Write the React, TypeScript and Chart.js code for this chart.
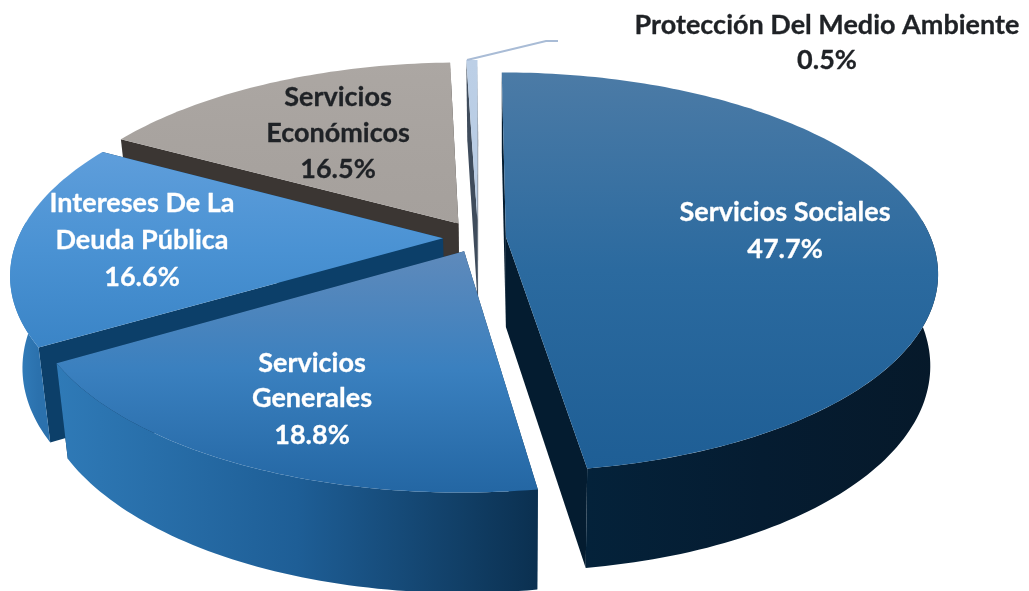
import React, { useEffect, useRef } from "react";
import { Chart, registerables } from "chart.js";

Chart.register(...registerables);

const categories = [
  "Servicios Sociales",
  "Servicios Generales",
  "Intereses De La Deuda Pública",
  "Servicios Económicos",
  "Protección Del Medio Ambiente",
];
const shares = [47.7, 18.8, 16.6, 16.5, 0.5];
const explode = [28, 32, 35, 38, 40];

const topStops = [
  ["#4c7ba6", "#2b6a9f", "#1e5e95"],
  ["#5f8abb", "#3a80bf", "#2467a4"],
  ["#5f9edb", "#4a92d3", "#3a84c6"],
  ["#aca7a3", "#a8a39f", "#a5a09c"],
  ["#bccfe6", "#b8cce4", "#b8cce4"],
];
const topRanges = [[70, 470], [250, 490], [150, 350], [60, 225], [60, 300]];
const wallLeft = ["#04223a", "#2f7ab7", "#3a86c4", "#3b3633", "#3a4a5c"];
const wallMid = ["#051c31", "#1e5e96", "#3079b6", "#3b3633", "#3a4a5c"];
const wallRight = ["#06192a", "#0b3050", "#2b71ad", "#3b3633", "#3a4a5c"];
const cutFaces = ["#041c30", "#0a3355", "#0c3f69", "#3b3633", "#3f4c5c"];
const drawOrder = [3, 4, 2, 1, 0];

const labelBlocks = [
  { lines: ["Protección Del Medio Ambiente", "0.5%"], x: 827, y: [25, 60], color: "#1f2226" },
  { lines: ["Servicios Sociales", "47.7%"], x: 785, y: [212, 249], color: "#ffffff" },
  { lines: ["Servicios", "Generales", "18.8%"], x: 312, y: [363, 398, 435], color: "#ffffff" },
  { lines: ["Intereses De La", "Deuda Pública", "16.6%"], x: 142, y: [203, 240, 277], color: "#ffffff" },
  { lines: ["Servicios", "Económicos", "16.5%"], x: 338, y: [97, 133, 169], color: "#1f2226" },
];

const SQUASH = 0.456;
const PERSP = 0.175;
const VANISH_X = 505;
const SHRINK_LEFT = 0.025;
const SHRINK_RIGHT = 0.018;

type Pt = { x: number; y: number; w: number };

const pie3d = {
  id: "pie3d",
  beforeDatasetDraw(chart: any) {
    const ctx: CanvasRenderingContext2D = chart.ctx;
    const arcs = chart.getDatasetMeta(0).data;
    for (const i of drawOrder) {
      const el = arcs[i];
      const { x, y, startAngle, endAngle, outerRadius: R } = el.getProps(
        ["x", "y", "startAngle", "endAngle", "outerRadius"],
        true
      );
      const off = el.options.offset;
      const mid = (startAngle + endAngle) / 2;
      const ou = off * Math.cos(mid);
      const ov = off * Math.sin(mid);
      const project = (u: number, v: number): Pt => {
        const w = 1 - (PERSP * v) / R;
        return { x: x + u / w, y: y + (SQUASH * v) / w, w };
      };
      const rim = (a: number) => project(ou + R * Math.cos(a), ov + R * Math.sin(a));
      const lower = (p: Pt): Pt => ({
        x: VANISH_X + (p.x - VANISH_X) * (1 - (p.x < VANISH_X ? SHRINK_LEFT : SHRINK_RIGHT)),
        y: p.y + 90 + 55 * (1 - p.w),
        w: p.w,
      });
      const apex = project(ou, ov);
      const poly = (pts: Pt[], fill: any) => {
        ctx.beginPath();
        pts.forEach((p, k) => (k ? ctx.lineTo(p.x, p.y) : ctx.moveTo(p.x, p.y)));
        ctx.closePath();
        ctx.fillStyle = fill;
        ctx.fill();
      };
      const sample = (a0: number, a1: number) => {
        const n = Math.max(2, Math.ceil(Math.abs(a1 - a0) / 0.02));
        const out: Pt[] = [];
        for (let k = 0; k <= n; k++) out.push(rim(a0 + ((a1 - a0) * k) / n));
        return out;
      };

      // cut faces
      const sP = rim(startAngle);
      const eP = rim(endAngle);
      poly([apex, eP, lower(eP), lower(apex)], cutFaces[i]);
      poly([apex, sP, lower(sP), lower(apex)], cutFaces[i]);

      // outer wall: only the part turned to the viewer (angles measured from +x, down is +)
      const lo = Math.max(startAngle, (-5 * Math.PI) / 180);
      const hi = Math.min(endAngle, (185 * Math.PI) / 180);
      if (hi > lo) {
        const top = sample(lo, hi);
        const xs = top.map((p) => p.x);
        const gradX = ctx.createLinearGradient(Math.min(...xs), 0, Math.max(...xs), 0);
        gradX.addColorStop(0, wallLeft[i]);
        gradX.addColorStop(0.5, wallMid[i]);
        gradX.addColorStop(1, wallRight[i]);
        poly([...top, ...top.slice().reverse().map(lower)], gradX);
      }

      // top face
      const [g0, g1] = topRanges[i];
      const tg = ctx.createLinearGradient(0, g0, 0, g1);
      topStops[i].forEach((c, k) => tg.addColorStop(k / 2, c));
      poly([apex, ...sample(startAngle, endAngle)], tg);
    }
    return false;
  },
  afterDraw(chart: any) {
    const ctx: CanvasRenderingContext2D = chart.ctx;
    // leader line of the thin slice
    ctx.save();
    ctx.strokeStyle = "#a9bcd6";
    ctx.lineWidth = 2;
    ctx.beginPath();
    ctx.moveTo(467, 60);
    ctx.lineTo(546, 41);
    ctx.lineTo(558, 41);
    ctx.stroke();
    ctx.font = "bold 27px Lato";
    ctx.textAlign = "center";
    ctx.textBaseline = "middle";
    ctx.lineWidth = 0.3;
    ctx.lineJoin = "round";
    for (const b of labelBlocks) {
      ctx.fillStyle = b.color;
      ctx.strokeStyle = b.color;
      b.lines.forEach((t, k) => {
        ctx.fillText(t, b.x, b.y[k]);
        ctx.strokeText(t, b.x, b.y[k]);
      });
    }
    ctx.restore();
  },
};

export default function App() {
  const ref = useRef<HTMLCanvasElement>(null);
  useEffect(() => {
    const chart = new Chart(ref.current!, {
      type: "pie",
      data: {
        labels: categories,
        datasets: [
          {
            data: shares,
            offset: explode,
            backgroundColor: topStops.map((s) => s[1]),
            borderWidth: 0,
            radius: 425,
          } as any,
        ],
      },
      options: {
        responsive: false,
        animation: false,
        radius: 425,
        layout: { padding: { right: 73, bottom: 115 } },
        plugins: { legend: { display: false }, tooltip: { enabled: false } },
      } as any,
      plugins: [pie3d],
    });
    return () => chart.destroy();
  }, []);
  return (
    <div style={{ position: "absolute", left: 0, top: 0, width: 1029, height: 591, background: "#fff" }}>
      <canvas ref={ref} width={1029} height={591} style={{ display: "block" }} />
    </div>
  );
}
